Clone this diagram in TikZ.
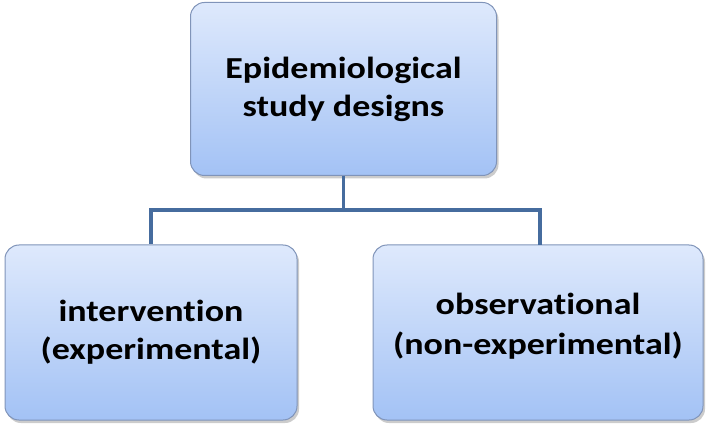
\documentclass[tikz,border=0pt]{standalone}
\usepackage{fontspec}
\setmainfont[FakeStretch=1.18,Ligatures=NoCommon]{Carlito}
\usetikzlibrary{shadows}
\definecolor{boxtop}{RGB}{222,233,252}
\definecolor{boxbottom}{RGB}{163,194,245}
\definecolor{boxedge}{RGB}{128,148,185}
\definecolor{branchblue}{RGB}{70,108,158}

\begin{document}
\begin{tikzpicture}[x=1pt,y=-1pt]
\tikzstyle{every node}=[font=\fontsize{30.5}{38}\selectfont\bfseries, align=center, inner sep=0pt]
\tikzstyle{designbox}=[draw=boxedge, line width=1pt, rounded corners=14pt, top color=boxtop, bottom color=boxbottom, drop shadow={shadow xshift=2pt, shadow yshift=-3pt, opacity=.4}]
\tikzstyle{branch}=[draw=branchblue, line width=3.4pt]
\useasboundingbox (0,0) rectangle (708,427);
\draw (343.5,89) node (design) [designbox, minimum width=306pt, minimum height=173pt] {Epidemiological\\study designs};
\draw (151,332.5) node (interv) [designbox, minimum width=292pt, minimum height=175pt] {intervention\\(experimental)};
\draw (538,332.5) node (observ) [designbox, minimum width=330pt, minimum height=175pt] {observational\\[2pt](non-experimental)\\[-20pt]};
\coordinate (split) at (343.5,210);
\draw [branch] (design.south) -- (split);
\draw [branch] (split) -| (interv.north);
\draw [branch] (split) -| (540,245) coordinate (obsin);
\end{tikzpicture}
\end{document}
